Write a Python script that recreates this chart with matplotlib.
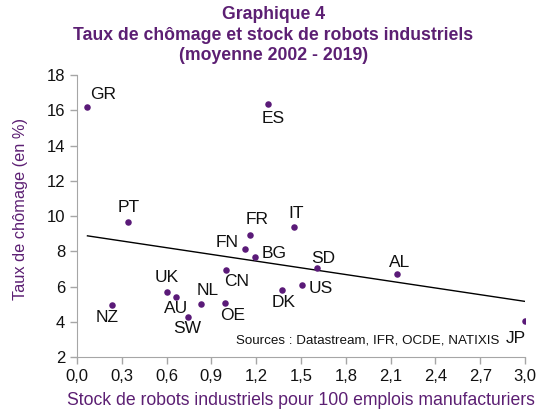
import numpy as np
import matplotlib
matplotlib.use("Agg")
import matplotlib.pyplot as plt
from matplotlib.ticker import FuncFormatter, MultipleLocator

plt.rcParams.update({
    "font.family": ["Liberation Sans", "DejaVu Sans"],
    "font.size": 10,
})

PURPLE = "#5C1F73"
DOT = "#5A1A78"
GRAY_AXIS = "#A6A6A6"

countries = ["GR", "ES", "PT", "FR", "IT", "FN", "BG", "SD", "AL", "JP",
             "US", "DK", "CN", "UK", "AU", "NL", "OE", "SW", "NZ"]
robots = [0.07, 1.28, 0.34, 1.16, 1.455, 1.125, 1.19, 1.61, 2.14, 3.0,
          1.51, 1.37, 1.0, 0.60, 0.66, 0.83, 0.99, 0.74, 0.235]
chomage = [16.18, 16.35, 9.65, 8.91, 9.36, 8.13, 7.70, 7.03, 6.73, 4.04,
           6.09, 5.78, 6.92, 5.71, 5.39, 5.01, 5.06, 4.29, 4.93]

# label offsets in pixels (dx, dy)
offsets = {
    "GR": (16, 13), "ES": (5, -14), "PT": (1, 15), "FR": (7, 16), "IT": (2, 14),
    "FN": (-18, 6), "BG": (19, 3), "SD": (6, 10), "AL": (3, 11), "JP": (-9, -17),
    "US": (18, -4), "DK": (2, -12), "CN": (10, -11), "UK": (0, 14), "AU": (1, -11),
    "NL": (7, 13), "OE": (8, -12), "SW": (0, -12), "NZ": (-5, -12),
}

fig = plt.figure(figsize=(5.44, 4.19), dpi=100)
ax = fig.add_axes([77 / 544, 1 - 357 / 419, 448 / 544, 282 / 419])

ax.scatter(robots, chomage, s=22, color=DOT, zorder=3, linewidths=0)
for c, x, y in zip(countries, robots, chomage):
    dx, dy = offsets[c]
    ax.annotate(c, (x, y), xytext=(dx, dy), textcoords="offset pixels",
                ha="center", va="center", fontsize=12.5, color="#111111")

# droite de tendance
slope, intercept = np.polyfit(robots, chomage, 1)
xs = np.array([min(robots), max(robots)])
ax.plot(xs, slope * xs + intercept, color="black", lw=1)

ax.set_xlim(0, 3.0)
ax.set_ylim(2, 18)
ax.xaxis.set_major_locator(MultipleLocator(0.3))
ax.yaxis.set_major_locator(MultipleLocator(2))
ax.xaxis.set_major_formatter(FuncFormatter(lambda v, p: f"{v:.1f}".replace(".", ",")))
for side in ["top", "right"]:
    ax.spines[side].set_visible(False)
for side in ["left", "bottom"]:
    ax.spines[side].set_color(GRAY_AXIS)
ax.tick_params(colors=GRAY_AXIS, labelcolor="#111111", labelsize=12, length=5, width=1)

ax.text(0.355, 0.06, "Sources : Datastream, IFR, OCDE, NATIXIS", transform=ax.transAxes,
        fontsize=9.6, color="#111111", va="center")

ax.set_xlabel("Stock de robots industriels pour 100 emplois manufacturiers",
              color=PURPLE, fontsize=12.7, labelpad=6)
ax.set_ylabel("Taux de chômage (en %)", color=PURPLE, fontsize=11.8)
ax.yaxis.set_label_coords(-0.11, 0.525)

fig.text(0.502, 0.985, "Graphique 4\nTaux de chômage et stock de robots industriels\n(moyenne 2002 - 2019)",
         ha="center", va="top", fontsize=12.7, fontweight="bold", color=PURPLE, linespacing=1.25)

fig.savefig("out.png", dpi=100)
